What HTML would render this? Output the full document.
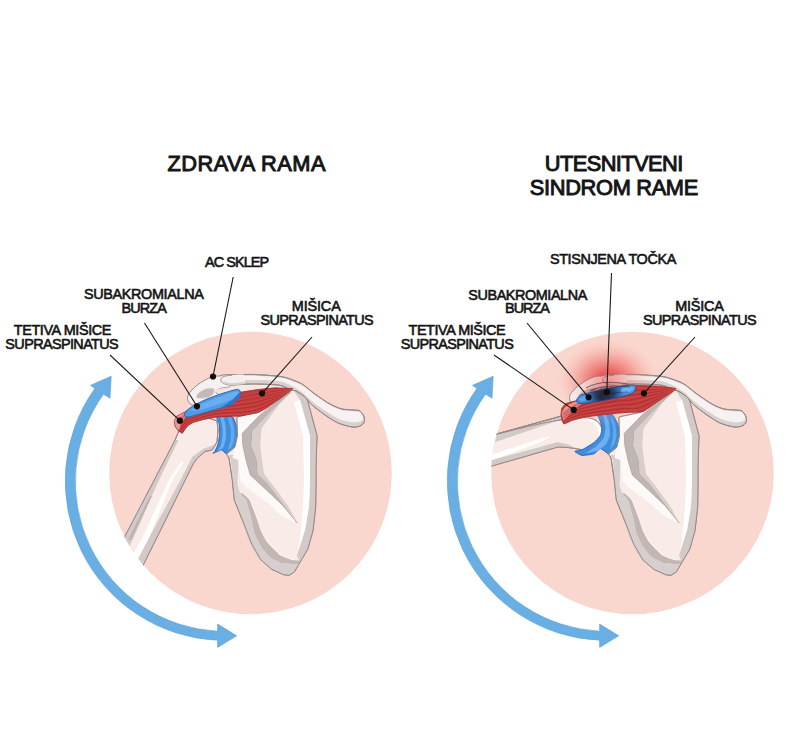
<!DOCTYPE html>
<html><head><meta charset="utf-8">
<style>
html,body{margin:0;padding:0;background:#fff;width:800px;height:750px;overflow:hidden}
svg{display:block}
text{font-family:"Liberation Sans",sans-serif;font-weight:normal;fill:#141414}
</style></head>
<body>
<svg width="800" height="750" viewBox="0 0 800 750">
<defs>
<clipPath id="clipL"><circle cx="250.5" cy="473" r="141.3"/></clipPath>
<clipPath id="clipR"><circle cx="632.5" cy="473" r="141.3"/></clipPath>
<filter id="blur2" x="-50%" y="-50%" width="200%" height="200%"><feGaussianBlur stdDeviation="2.5"/></filter>
<linearGradient id="burG" x1="576" y1="0" x2="636" y2="0" gradientUnits="userSpaceOnUse"><stop offset="0" stop-color="#3f8fe0"/><stop offset="0.22" stop-color="#3b7fd0"/><stop offset="0.42" stop-color="#1e2c4a"/><stop offset="0.58" stop-color="#26406c"/><stop offset="0.72" stop-color="#3475c0"/><stop offset="0.8" stop-color="#3f8ee0"/><stop offset="1" stop-color="#55a2ea"/></linearGradient>
<radialGradient id="glow" cx="0.5" cy="0.5" r="0.5">
<stop offset="0" stop-color="#e5302f" stop-opacity="0.85"/>
<stop offset="0.2" stop-color="#e83d3b" stop-opacity="0.68"/>
<stop offset="0.45" stop-color="#ec605b" stop-opacity="0.42"/>
<stop offset="0.7" stop-color="#f1857c" stop-opacity="0.18"/>
<stop offset="1" stop-color="#f9d6cd" stop-opacity="0"/>
</radialGradient>
</defs>
<!-- circles -->
<circle cx="250.5" cy="473" r="141.3" fill="#fad7ce"/>
<circle cx="632.5" cy="473" r="141.3" fill="#fad7ce"/>

<!-- arrows -->
<g id="arrowL" fill="#6aafe3" stroke="#5b9fd8" stroke-width="0.6" stroke-linejoin="miter">
<path d="M94.8,388.6 L90.5,385.3 L111.2,376.2 L110,398.2 L103.5,394.2 A149.8,149.8 0 0 0 217.6,631.2 L217.6,624 L236.7,635.8 L217.6,647.5 L217.6,640.3 A159.4,159.4 0 0 1 94.8,388.6 Z"/>
</g>
<use href="#arrowL" transform="translate(382,0)"/>


<g id="anatL">
<path d="M81.0,620.0 L133.5,520.0 L175.1,440.0 L178.0,433.0 L183.0,425.0 L190.5,421.0 L200.0,419.0 L210.0,418.5 L217.0,421.0 L218.0,430.0 L217.0,442.0 L212.0,450.0 L205.0,451.5 L197.5,458.0 L193.3,463.5 L165.5,520.0 L116.0,620.0 Z" fill="#f9ebe7" stroke="#968a88" stroke-width="1.0" stroke-linejoin="round" clip-path="url(#clipL)"/>
<path d="M81.0,620.0 L133.5,520.0 L175.1,440.0 L178.6,440.0 L159.0,480.0 L133.8,537.3 L95.0,620.0 Z" fill="#d3cac8" clip-path="url(#clipL)"/>
<path d="M128.0,540.0 L150.0,496.0 L152.0,496.0 L131.0,540.0 Z" fill="#b3a8a5" clip-path="url(#clipL)" opacity="0.7"/>
<path d="M116.0,620.0 L165.5,520.0 L193.3,463.5 L197.5,458.0 L205.0,451.5 L212.0,450.0 L216.0,444.0 L211.0,446.0 L203.0,449.0 L192.2,457.0 L180.5,480.0 L149.2,537.3 L106.0,620.0 Z" fill="#d3cac8" clip-path="url(#clipL)"/>
<path d="M181.5,461.3 L183.5,462.5 L172.5,480.0 L149.2,537.3 L106.0,620.0 L94.0,620.0 L142.7,537.3 L169.0,480.0 Z" fill="#ffffff" clip-path="url(#clipL)"/>
<path d="M81.0,620.0 L133.5,520.0 L175.1,440.0 L178.0,433.0 L183.0,425.0 L190.5,421.0 L200.0,419.0 L210.0,418.5 L217.0,421.0 L218.0,430.0 L217.0,442.0 L212.0,450.0 L205.0,451.5 L197.5,458.0 L193.3,463.5 L165.5,520.0 L116.0,620.0 Z" fill="none" stroke="#968a88" stroke-width="1.0" stroke-linejoin="round" clip-path="url(#clipL)"/>
<path d="M216.3,416.3 C216.7,415.7 222.7,416.0 224.0,416.0 C225.3,416.0 230.8,416.0 231.7,416.3 C232.6,416.6 233.9,419.0 234.3,420.0 C234.7,421.0 236.7,427.2 237.0,428.7 C237.3,430.2 237.8,436.4 237.7,438.0 C237.6,439.6 236.3,446.1 235.7,447.3 C235.1,448.5 231.1,452.1 230.3,452.7 C229.5,453.3 227.0,454.2 226.3,454.0 C225.6,453.8 222.8,450.1 221.7,450.0 C220.6,449.9 213.6,453.2 213.0,453.3 C212.4,453.4 214.6,452.1 215.0,451.3 C215.4,450.5 217.9,444.8 218.3,443.3 C218.7,441.8 219.6,435.0 219.7,433.3 C219.8,431.6 219.3,424.7 219.0,423.3 C218.7,421.9 215.9,416.9 216.3,416.3 Z" fill="#3f8ddc" stroke="#2764b8" stroke-width="0.9" stroke-linejoin="round" />
<path d="M220.5,417.5 C220.7,416.9 223.0,416.8 223.5,417.5 C224.0,418.2 225.2,423.1 225.5,425.0 C225.8,426.9 226.2,434.8 226.0,437.0 C225.8,439.2 224.3,445.6 223.5,447.0 C222.7,448.4 218.2,451.9 218.0,451.5 C217.8,451.1 221.1,444.9 221.5,443.0 C221.9,441.1 222.5,434.9 222.5,433.0 C222.5,431.1 222.0,425.6 221.8,424.0 C221.6,422.4 220.3,418.1 220.5,417.5 Z" fill="#6ab0f2" />
<path d="M228.0,418.0 C228.1,416.9 230.9,417.1 231.5,418.0 C232.1,418.9 233.7,425.0 234.0,427.0 C234.3,429.0 234.7,436.1 234.5,438.0 C234.3,439.9 232.7,445.3 232.0,446.5 C231.3,447.7 228.2,450.6 228.0,450.0 C227.8,449.4 230.2,442.1 230.5,440.0 C230.8,437.9 231.1,431.2 230.8,429.0 C230.6,426.8 227.9,419.1 228.0,418.0 Z" fill="#62a8ee" />
<g id="shared">
<path d="M293.0,389.5 L306.3,395.7 L317.0,435.7 L316.0,465.0 L316.0,485.0 L315.7,506.7 L313.0,530.7 L307.7,549.3 L299.7,562.7 L294.3,572.0 L289.0,575.3 L283.7,574.7 L271.7,569.3 L261.0,560.0 L251.7,544.0 L245.0,526.7 L239.7,513.3 L234.3,500.0 L232.3,480.0 L229.0,458.0 L226.5,454.0 L235.0,447.0 L237.5,436.0 L237.0,417.0 L258.0,412.5 L280.0,398.5 Z" fill="#f9ebe7" stroke="#968a88" stroke-width="1.0" stroke-linejoin="round" />
<path d="M228.5,455.0 L231.0,460.0 L232.3,480.0 L234.3,497.3 L239.0,510.0 L242.1,520.0 L246.9,536.0 L253.3,549.9 L259.7,560.0 L271.7,569.3 L283.7,574.7 L289.0,575.3 L294.3,572.0 L299.7,562.7 L299.7,562.7 L296.0,564.0 L283.0,563.5 L270.0,557.3 L261.0,546.5 L254.4,533.0 L251.2,518.0 L246.0,500.0 L240.0,493.0 L237.5,485.0 L238.5,460.0 L236.0,455.0 Z" fill="#d7cfcd" />
<path d="M240.0,493.0 C240.1,493.3 245.4,498.8 246.0,500.0 C246.6,501.2 250.8,516.4 251.2,518.0 C251.6,519.6 253.9,531.6 254.4,533.0 C254.9,534.4 260.2,545.3 261.0,546.5 C261.8,547.7 268.9,556.4 270.0,557.3 C271.1,558.1 281.7,563.2 283.0,563.5 C284.3,563.8 295.2,564.0 296.0,564.0 C296.8,564.0 299.5,562.9 299.7,562.7 C299.9,562.5 299.9,560.2 299.5,560.0 C299.1,559.8 293.0,559.8 292.0,559.5 C291.0,559.2 281.2,555.6 280.0,554.7 C278.8,553.8 268.6,543.6 267.7,542.4 C266.8,541.2 261.8,531.9 261.3,530.7 C260.8,529.5 257.6,519.5 257.0,518.0 C256.4,516.5 250.7,501.2 250.0,500.0 C249.3,498.8 244.5,494.4 244.0,494.0 C243.5,493.6 239.9,492.7 240.0,493.0 Z" fill="#c3b7b4" />
<path d="M244.0,494.0 C244.5,494.5 248.9,498.0 250.0,500.0 C251.1,502.0 256.1,515.4 257.0,518.0 C257.9,520.6 260.4,528.7 261.3,530.7 C262.2,532.7 266.1,540.4 267.7,542.4 C269.3,544.4 278.0,553.3 280.0,554.7 C282.0,556.1 290.4,559.1 292.0,559.5 C293.6,559.9 298.9,560.0 299.5,560.0" fill="none" stroke="#fdf8f7" stroke-width="1.0" stroke-linejoin="round" />
<path d="M293.0,389.5 L306.3,395.7 L317.0,435.7 L316.0,465.0 L316.0,485.0 L315.7,506.7 L313.0,530.7 L307.7,549.3 L299.7,562.7 L297.0,555.0 L305.0,530.0 L309.0,506.0 L310.0,480.0 L310.0,436.0 L300.0,400.0 Z" fill="#d3cac8" />
<path d="M300.0,400.0 L310.0,436.0 L310.0,480.0 L309.0,506.0 L305.0,530.0 L297.0,555.0 L300.0,540.0 L303.0,506.0 L304.0,480.0 L303.0,436.0 L294.0,402.0 Z" fill="#ffffff" />
<path d="M237.0,417.0 L258.0,412.5 L261.0,414.0 L242.2,433.4 L242.8,445.4 L246.0,460.0 L250.3,475.0 L265.2,488.8 L283.3,505.9 L297.2,522.9 L294.0,521.9 L281.2,515.5 L267.3,502.7 L247.0,487.7 L240.7,481.3 L239.5,472.0 L238.5,460.0 L232.5,458.0 L235.0,447.0 L237.5,436.0 Z" fill="#fdf9f8" />
<path d="M292.0,390.0 L259.6,415.4 L242.2,433.4 L242.8,445.4 L246.0,460.0 L250.3,475.0 L265.2,488.8 L283.3,505.9 L297.2,522.9 L267.3,483.5 L257.7,473.9 L256.7,460.0 L251.2,445.4 L252.4,431.0 L270.0,412.0 L290.0,393.0 Z" fill="#bfb5b2" stroke="#9f9391" stroke-width="0.6" stroke-linejoin="round" />
<path d="M290.0,393.0 L270.0,412.0 L252.4,431.0 L251.2,445.4 L256.7,460.0 L257.7,473.9 L267.3,483.5 L297.2,522.9 L288.7,506.9 L274.8,487.7 L264.1,473.9 L262.0,460.0 L260.2,445.4 L261.4,428.6 L283.6,398.6 Z" fill="#d8cfcd" />
<path d="M293.0,389.5 L306.3,395.7 L317.0,435.7 L316.0,465.0 L316.0,485.0 L315.7,506.7 L313.0,530.7 L307.7,549.3 L299.7,562.7 L294.3,572.0 L289.0,575.3 L283.7,574.7 L271.7,569.3 L261.0,560.0 L251.7,544.0 L245.0,526.7 L239.7,513.3 L234.3,500.0 L232.3,480.0 L229.0,458.0 L226.5,454.0 L235.0,447.0 L237.5,436.0 L237.0,417.0 L258.0,412.5 L280.0,398.5 Z" fill="none" stroke="#968a88" stroke-width="1.0" stroke-linejoin="round" />
<path d="M222.0,383.5 L255.0,383.5 L280.0,384.8 L290.0,389.5 L296.0,391.5 L293.5,392.0 L280.0,389.2 L258.0,389.5 L240.0,392.3 L218.0,396.0 L214.0,391.0 Z" fill="#f6e8e4" />
<path d="M221.5,375.4 C224.1,374.8 235.5,374.7 240.0,374.6 C244.5,374.5 249.7,374.3 255.0,374.5 C260.3,374.7 275.3,375.8 280.0,376.4 C284.7,377.0 287.1,378.0 290.0,379.0 C292.9,380.0 298.7,382.0 302.0,384.0 C305.3,386.0 311.3,391.3 315.0,394.0 C318.7,396.7 326.4,402.0 330.0,404.0 C333.6,406.0 338.8,408.2 342.0,409.0 C345.2,409.8 351.6,409.7 354.0,410.0 C356.4,410.3 358.7,410.1 360.0,411.0 C361.3,411.9 363.4,415.0 364.0,416.5 C364.6,418.0 364.7,420.7 364.2,422.0 C363.7,423.3 361.6,425.3 360.0,426.0 C358.4,426.7 354.9,427.4 352.0,427.0 C349.1,426.6 341.6,424.6 338.0,423.0 C334.4,421.4 328.5,417.4 325.0,415.0 C321.5,412.6 314.7,407.4 312.0,405.0 C309.3,402.6 307.1,398.9 305.0,397.0 C302.9,395.1 298.0,391.9 296.0,391.0 C294.0,390.1 292.1,390.8 290.0,390.0 C287.9,389.2 284.7,386.1 280.0,385.3 C275.3,384.5 261.4,384.1 255.0,384.0 C248.6,383.9 236.3,384.7 232.0,384.6 C227.7,384.5 224.1,383.7 222.5,383.0 C220.9,382.3 220.4,380.3 220.3,379.3 C220.2,378.3 218.9,376.0 221.5,375.4 Z" fill="#d9d1cf" stroke="#968a88" stroke-width="1.0" stroke-linejoin="round" />
<path d="M223.0,376.5 C225.3,375.9 235.7,375.9 240.0,375.8 C244.3,375.7 249.7,375.5 255.0,375.8 C260.3,376.1 275.3,377.1 280.0,377.7 C284.7,378.3 287.1,379.2 290.0,380.2 C292.9,381.2 298.7,383.2 302.0,385.2 C305.3,387.2 311.3,392.5 315.0,395.2 C318.7,397.9 326.4,403.2 330.0,405.2 C333.6,407.2 338.8,409.4 342.0,410.2 C345.2,411.0 351.6,410.9 354.0,411.2 C356.4,411.5 358.8,411.5 360.0,412.2 C361.2,412.9 362.5,415.5 362.8,416.5 C363.1,417.5 363.1,419.3 362.5,420.0 C361.9,420.7 359.7,421.7 358.0,422.0 C356.3,422.3 352.7,422.5 350.0,422.0 C347.3,421.5 341.5,420.1 338.0,418.5 C334.5,416.9 327.6,412.4 324.0,410.0 C320.4,407.6 313.8,402.8 311.0,400.5 C308.2,398.2 305.3,394.8 303.0,393.0 C300.7,391.2 297.1,388.6 294.0,387.0 C290.9,385.4 285.2,382.2 280.0,381.3 C274.8,380.4 261.4,380.1 255.0,380.0 C248.6,379.9 236.3,380.3 232.0,380.3 C227.7,380.3 224.2,380.5 223.0,380.0 C221.8,379.5 220.7,377.1 223.0,376.5 Z" fill="#f7f2f1" />
<path d="M221.5,375.4 C224.1,374.8 235.5,374.7 240.0,374.6 C244.5,374.5 249.7,374.3 255.0,374.5 C260.3,374.7 275.3,375.8 280.0,376.4 C284.7,377.0 287.1,378.0 290.0,379.0 C292.9,380.0 298.7,382.0 302.0,384.0 C305.3,386.0 311.3,391.3 315.0,394.0 C318.7,396.7 326.4,402.0 330.0,404.0 C333.6,406.0 338.8,408.2 342.0,409.0 C345.2,409.8 351.6,409.7 354.0,410.0 C356.4,410.3 358.7,410.1 360.0,411.0 C361.3,411.9 363.4,415.0 364.0,416.5 C364.6,418.0 364.7,420.7 364.2,422.0 C363.7,423.3 361.6,425.3 360.0,426.0 C358.4,426.7 354.9,427.4 352.0,427.0 C349.1,426.6 341.6,424.6 338.0,423.0 C334.4,421.4 328.5,417.4 325.0,415.0 C321.5,412.6 314.7,407.4 312.0,405.0 C309.3,402.6 307.1,398.9 305.0,397.0 C302.9,395.1 298.0,391.9 296.0,391.0 C294.0,390.1 292.1,390.8 290.0,390.0 C287.9,389.2 284.7,386.1 280.0,385.3 C275.3,384.5 261.4,384.1 255.0,384.0 C248.6,383.9 236.3,384.7 232.0,384.6 C227.7,384.5 224.1,383.7 222.5,383.0 C220.9,382.3 220.4,380.3 220.3,379.3 C220.2,378.3 218.9,376.0 221.5,375.4 Z" fill="none" stroke="#968a88" stroke-width="1.0" stroke-linejoin="round" />
<path d="M213.0,376.5 C215.0,376.0 220.0,375.8 222.0,376.0 C224.0,376.2 228.8,377.2 230.0,378.0 C231.2,378.8 232.1,382.0 232.0,383.0 C231.9,384.0 230.9,386.2 229.5,386.8 C228.1,387.4 221.7,388.0 220.0,388.5 C218.3,389.0 215.1,390.7 215.0,391.5 C214.9,392.3 219.1,394.2 219.0,395.0 C218.9,395.8 216.0,397.6 214.0,398.5 C212.0,399.4 204.6,402.2 202.0,403.0 C199.4,403.8 193.7,405.4 192.0,405.0 C190.3,404.6 188.2,401.3 187.8,400.0 C187.4,398.7 187.5,395.6 188.5,394.0 C189.5,392.4 194.1,387.6 196.0,386.0 C197.9,384.4 203.0,381.1 205.0,380.0 C207.0,378.9 211.0,377.0 213.0,376.5 Z" fill="#f6f1f0" stroke="#968a88" stroke-width="1.0" stroke-linejoin="round" />
<path d="M196.0,397.0 C195.9,396.2 197.8,393.6 199.0,392.5 C200.2,391.4 203.3,389.6 205.0,389.0 C206.7,388.4 210.7,387.9 212.0,388.0 C213.3,388.1 214.4,389.1 214.5,390.0 C214.6,390.9 213.9,393.5 213.0,394.5 C212.1,395.5 209.7,397.0 208.0,397.5 C206.3,398.0 201.6,398.6 200.0,398.5 C198.4,398.4 196.1,397.8 196.0,397.0 Z" fill="#c3b9b7" stroke="#e9e2e0" stroke-width="0.8" stroke-linejoin="round" />
<path d="M214.5,390.0 C215.3,389.4 220.1,388.6 222.0,388.3 C223.9,388.0 228.7,387.1 229.0,387.5 C229.3,387.9 225.7,390.3 224.0,391.0 C222.3,391.7 217.3,392.6 216.0,392.5 C214.7,392.4 213.7,390.6 214.5,390.0 Z" fill="#f3e3df" />
<path d="M221.5,376.0 C223.0,375.4 229.0,375.1 232.0,375.0 C235.0,374.9 242.4,373.8 244.0,375.0 C245.6,376.2 245.7,382.6 244.0,384.0 C242.3,385.4 233.8,385.6 231.0,385.5 C228.2,385.4 224.4,384.3 223.0,383.5 C221.6,382.7 220.7,380.5 220.5,379.5 C220.3,378.5 220.0,376.6 221.5,376.0 Z" fill="#f4efee" />
<path d="M232,375.3 C226,375.5 221,376.5 220.8,379.8 C220.8,383 225,384.8 232,385.3 L244,384.3" fill="none" stroke="#968a88" stroke-width="0.9"/>
<path d="M223.0,381.5 C224.0,381.5 228.2,382.9 231.0,383.0 C233.8,383.1 242.3,381.9 244.0,382.0 C245.7,382.1 245.7,383.6 244.0,384.0 C242.3,384.4 233.7,385.2 231.0,385.1 C228.3,385.0 224.6,383.8 223.5,383.3 C222.4,382.8 222.0,381.5 223.0,381.5 Z" fill="#d9d1cf" />
</g>
<path d="M293.0,388.5 L275.0,387.8 L258.0,389.5 L240.0,392.3 L220.0,398.8 L198.0,406.0 L185.0,412.0 L177.0,416.0 L174.2,421.0 L175.2,426.5 L178.5,431.0 L182.3,433.3 L184.5,430.0 L188.0,425.5 L193.0,422.5 L205.0,419.0 L218.0,416.7 L240.0,416.0 L258.0,412.5 L266.0,408.5 L280.0,398.5 Z" fill="#c33b3b" stroke="#a22b2d" stroke-width="0.8" stroke-linejoin="round" />
<path d="M174.5,421.0 C174.7,419.7 176.8,417.0 178.0,416.0 C179.2,415.0 183.6,413.1 185.0,412.5 C186.4,411.9 189.9,410.5 190.0,411.0 C190.1,411.5 187.1,415.5 186.0,417.0 C184.9,418.5 181.8,422.5 181.0,424.0 C180.2,425.5 179.6,429.6 179.0,430.0 C178.4,430.4 176.5,428.1 176.0,427.0 C175.5,425.9 174.3,422.3 174.5,421.0 Z" fill="#e49b93" />
<g fill="none" stroke="#a32a2c" stroke-width="0.8" opacity="0.8"><path d="M291.8,389.0 C286.2,389.8 270.0,391.2 258.0,393.4 C246.0,395.6 230.8,398.8 219.6,401.9 C208.4,405.1 197.4,409.1 190.6,412.1 C183.8,415.1 180.9,418.5 179.0,419.8"/><path d="M291.6,389.2 C286.0,390.6 270.1,394.8 258.0,397.4 C245.9,400.0 230.4,402.1 219.3,404.9 C208.1,407.6 197.7,411.3 191.1,414.2 C184.5,417.0 181.7,420.7 179.8,422.0"/><path d="M291.5,389.4 C285.9,391.4 270.1,398.3 258.0,401.4 C245.9,404.5 230.0,405.3 219.0,407.8 C207.9,410.2 198.0,413.5 191.6,416.3 C185.2,419.0 182.4,422.9 180.6,424.3"/><path d="M291.3,389.6 C285.8,392.2 270.1,401.9 258.0,405.4 C245.9,408.9 229.6,408.5 218.6,410.7 C207.6,412.8 198.2,415.7 192.0,418.3 C185.8,421.0 183.2,425.2 181.4,426.5"/><path d="M291.2,389.8 C285.6,393.1 270.1,405.4 258.0,409.4 C245.9,413.4 229.2,411.8 218.3,413.6 C207.4,415.4 198.5,417.9 192.5,420.4 C186.5,422.9 183.9,427.4 182.2,428.8"/></g><g fill="none" stroke="#d6514f" stroke-width="0.7" opacity="0.75"><path d="M291.9,388.9 C286.2,389.6 270.0,390.6 258.0,392.6 C246.0,394.7 231.0,398.1 219.8,401.2 C208.5,404.3 197.2,408.1 190.4,411.1 C183.5,414.0 180.6,417.4 178.6,418.7"/><path d="M291.7,389.1 C286.1,390.3 270.0,393.9 258.0,396.4 C246.0,398.9 230.6,401.2 219.4,404.0 C208.2,406.8 197.5,410.3 190.8,413.1 C184.2,416.0 181.3,419.6 179.4,420.9"/><path d="M291.6,389.3 C286.0,391.1 270.1,397.3 258.0,400.2 C245.9,403.1 230.2,404.2 219.1,406.8 C208.0,409.3 197.8,412.5 191.3,415.2 C184.8,418.0 182.1,421.8 180.2,423.2"/><path d="M291.4,389.5 C285.8,391.9 270.1,400.6 258.0,404.0 C245.9,407.3 229.8,407.3 218.8,409.5 C207.8,411.8 198.1,414.7 191.8,417.3 C185.5,419.9 182.8,424.0 181.0,425.4"/><path d="M291.2,389.7 C285.7,392.7 270.1,404.0 258.0,407.7 C245.9,411.5 229.4,410.4 218.5,412.3 C207.5,414.3 198.4,416.8 192.3,419.4 C186.2,421.9 183.5,426.3 181.8,427.6"/><path d="M291.1,389.9 C285.6,393.5 270.2,407.3 258.0,411.5 C245.8,415.7 229.0,413.4 218.2,415.1 C207.3,416.8 198.7,419.0 192.8,421.5 C186.8,423.9 184.3,428.5 182.6,429.9"/></g>
<path d="M184.6,415.0 C184.7,414.2 185.0,412.2 186.2,410.9 C187.5,409.6 191.8,406.8 194.0,405.5 C196.2,404.2 199.2,402.5 202.5,401.0 C205.8,399.5 214.4,396.1 218.8,394.6 C223.1,393.1 232.3,390.4 235.0,389.8 C237.7,389.1 238.3,389.4 239.0,389.8 C239.7,390.2 240.5,391.6 240.6,392.5 C240.7,393.4 240.5,395.4 240.0,396.5 C239.5,397.6 237.6,399.4 236.5,400.5 C235.4,401.6 233.8,403.4 231.8,404.4 C229.7,405.4 223.8,407.1 221.0,408.0 C218.2,408.9 213.7,410.0 210.6,410.9 C207.5,411.8 200.8,413.7 198.0,414.5 C195.2,415.3 191.2,416.5 189.5,416.8 C187.8,417.1 186.2,417.0 185.5,416.8 C184.8,416.6 184.5,415.8 184.6,415.0 Z" fill="#4f9be4" stroke="#2a66bd" stroke-width="1.0" stroke-linejoin="round" />
<path d="M191.0,410.0 C191.7,409.1 199.3,405.2 203.0,403.5 C206.7,401.8 215.0,398.5 219.0,397.0 C223.0,395.5 230.5,392.7 233.0,392.0 C235.5,391.3 237.5,391.5 238.0,392.0 C238.5,392.5 238.1,394.4 237.0,395.5 C235.9,396.6 232.9,398.7 230.0,400.0 C227.1,401.3 219.3,404.1 215.0,405.5 C210.7,406.9 201.2,409.9 198.0,410.5 C194.8,411.1 190.3,410.9 191.0,410.0 Z" fill="#68aef0" />
<path d="M240.6,392.5 C240.9,392.8 240.5,395.4 240.0,396.5 C239.5,397.6 237.6,399.4 236.5,400.5 C235.4,401.6 233.8,403.4 231.8,404.4 C229.7,405.4 221.8,408.1 221.0,408.0 C220.2,407.9 224.3,405.2 226.0,404.0 C227.7,402.8 232.0,400.3 233.5,399.0 C235.0,397.7 236.6,395.4 237.5,394.5 C238.4,393.6 240.3,392.2 240.6,392.5 Z" fill="#2f72c6" />
</g>
<g id="anatR">
<path d="M478.0,439.2 L563.1,415.6 Z C575,413 592,415 599,423 C604,430 605,440 600,446 C596,450 588,451 578,449 C572,448 566,447 558,447 L478,470 Z" fill="#f9ebe7" stroke="#968a88" stroke-width="1.0" stroke-linejoin="round" clip-path="url(#clipR)"/>
<path d="M478.0,439.2 L563.1,415.6 L566.0,417.0 L560.0,420.0 L478.0,447.8 Z" fill="#d3cac8" clip-path="url(#clipR)"/>
<path d="M478.0,470.0 L558.0,447.0 L566.0,447.0 L578.0,449.0 L568.0,444.5 L558.0,442.0 L478.0,463.8 Z" fill="#d3cac8" clip-path="url(#clipR)"/>
<path d="M478.0,458.0 L493.0,454.0 L547.0,436.5 L550.0,437.0 L540.0,442.5 L492.0,460.0 L478.0,463.8 Z" fill="#ffffff" clip-path="url(#clipR)"/>
<path d="M572,417 C585,415 595,418 600,425 C603.5,431 604,440 600,445.5 C596,449.5 590,450.5 584,450 C591,447 597,443 598.5,437 C599.5,430 596,423 588,420 C583,418.5 577,418 572,417 Z" fill="#ffffff"/>
<path d="M478.0,439.2 L563.1,415.6 Z C575,413 592,415 599,423 C604,430 605,440 600,446 C596,450 588,451 578,449 C572,448 566,447 558,447 L478,470 Z" fill="none" stroke="#968a88" stroke-width="1.0" stroke-linejoin="round" clip-path="url(#clipR)"/>
<path d="M598.8,412.2 C599.6,411.9 606.4,411.9 607.6,412.2 C608.8,412.5 612.3,414.3 613.2,415.4 C614.1,416.5 617.5,423.3 618.0,425.0 C618.5,426.7 619.6,433.7 619.6,435.4 C619.6,437.1 618.5,443.7 618.0,445.0 C617.5,446.3 614.0,450.7 613.2,451.4 C612.4,452.1 609.5,454.0 608.4,453.8 C607.3,453.6 601.6,448.6 600.4,448.6 C599.2,448.6 595.5,453.2 594.0,453.8 C592.5,454.4 583.6,455.6 582.0,455.4 C580.4,455.2 574.8,451.9 574.8,451.4 C574.8,450.9 580.4,450.5 582.0,449.8 C583.6,449.1 592.5,443.8 594.0,442.6 C595.5,441.4 599.7,436.7 600.4,435.4 C601.1,434.1 602.1,428.7 602.0,427.4 C601.9,426.1 599.9,420.3 599.6,419.4 C599.3,418.4 598.1,416.6 598.0,416.0 C597.9,415.4 598.0,412.5 598.8,412.2 Z" fill="#3f8ddc" stroke="#2764b8" stroke-width="0.9" stroke-linejoin="round" />
<path d="M603.0,414.0 C603.0,413.0 605.5,414.2 606.0,415.0 C606.5,415.8 608.7,421.3 609.0,423.0 C609.3,424.7 610.2,433.2 610.0,435.0 C609.8,436.8 607.0,442.7 606.0,444.0 C605.0,445.3 599.7,449.8 598.0,450.5 C596.3,451.2 586.2,453.3 586.0,453.0 C585.8,452.7 594.5,447.8 596.0,446.5 C597.5,445.2 602.7,439.6 603.5,438.0 C604.3,436.4 605.5,429.0 605.5,427.0 C605.5,425.0 603.0,415.0 603.0,414.0 Z" fill="#6ab0f2" />
<path d="M611.0,417.0 C611.2,416.7 614.5,422.5 615.0,424.0 C615.5,425.5 616.5,433.3 616.5,435.0 C616.5,436.7 615.0,442.8 614.5,444.0 C614.0,445.2 610.2,449.3 610.0,449.0 C609.8,448.7 612.2,441.8 612.5,440.0 C612.8,438.2 613.1,429.9 613.0,428.0 C612.9,426.1 610.8,417.3 611.0,417.0 Z" fill="#62a8ee" />
<ellipse cx="608" cy="381" rx="54" ry="44" fill="url(#glow)"/>
<use href="#shared" transform="translate(382.0,0)"/>
<ellipse cx="608" cy="381" rx="54" ry="44" fill="url(#glow)" opacity="0.55"/>
<path d="M676.0,388.7 C675.7,387.9 657.8,386.2 655.0,386.0 C652.2,385.8 632.0,385.1 628.8,385.3 C625.5,385.5 602.9,389.1 600.0,390.0 C597.1,390.9 580.3,399.2 578.3,400.0 C576.3,400.8 567.0,403.0 566.0,403.5 C565.0,404.0 562.3,407.4 562.0,408.0 C561.7,408.6 561.0,413.3 561.0,414.0 C561.0,414.7 561.8,419.4 562.0,420.0 C562.2,420.6 563.4,424.0 564.0,424.0 C564.6,424.0 570.9,420.9 572.0,420.5 C573.1,420.1 581.4,417.8 583.0,417.5 C584.6,417.2 597.5,415.3 600.0,415.0 C602.5,414.7 622.5,412.7 625.0,412.5 C627.5,412.3 641.4,412.2 643.4,411.5 C645.4,410.8 658.1,401.3 660.0,400.0 C661.9,398.7 676.3,389.5 676.0,388.7 Z" fill="#c33b3b" stroke="#a22b2d" stroke-width="0.8" stroke-linejoin="round" />
<path d="M562.0,412.5 C562.4,410.8 565.1,406.8 567.0,405.5 C568.9,404.2 575.9,401.6 578.0,401.0 C580.1,400.4 585.0,399.3 585.0,400.0 C585.0,400.7 579.8,405.4 578.0,407.0 C576.2,408.6 571.6,412.4 570.0,414.0 C568.4,415.6 564.9,420.7 564.0,420.5 C563.1,420.3 561.6,414.2 562.0,412.5 Z" fill="#e49b93" />
<g fill="none" stroke="#a32a2c" stroke-width="0.8" opacity="0.8"><path d="M674.8,389.2 C667.6,389.5 643.2,389.8 631.6,390.7 C620.0,391.7 613.8,392.5 605.0,394.7 C596.2,396.9 586.0,400.6 579.0,403.7 C572.0,406.8 565.8,411.8 563.2,413.4"/><path d="M674.6,389.4 C667.8,390.3 644.8,393.4 633.9,394.9 C622.9,396.3 618.0,396.3 609.0,398.2 C600.0,400.1 587.4,403.5 579.8,406.4 C572.2,409.2 566.1,413.8 563.4,415.3"/><path d="M674.5,389.5 C668.1,391.1 646.4,396.9 636.2,399.0 C625.9,401.0 622.3,400.1 613.0,401.7 C603.7,403.4 588.8,406.5 580.6,409.1 C572.4,411.7 566.4,415.9 563.5,417.2"/><path d="M674.3,389.7 C668.3,391.9 648.0,400.5 638.4,403.1 C628.9,405.7 626.5,403.8 617.0,405.3 C607.5,406.7 590.3,409.5 581.4,411.8 C572.5,414.1 566.6,417.9 563.7,419.2"/><path d="M674.2,389.8 C668.6,392.7 649.6,404.0 640.7,407.2 C631.9,410.3 630.8,407.6 621.0,408.8 C611.2,410.0 591.7,412.4 582.2,414.5 C572.7,416.5 566.9,420.0 563.8,421.1"/></g><g fill="none" stroke="#d6514f" stroke-width="0.7" opacity="0.75"><path d="M674.9,389.1 C667.5,389.0 642.4,388.0 630.5,388.7 C618.5,389.3 611.6,390.7 603.0,392.9 C594.4,395.2 585.2,399.1 578.6,402.3 C572.0,405.6 565.7,410.8 563.1,412.4"/><path d="M674.7,389.3 C667.7,389.9 644.0,391.6 632.7,392.8 C621.5,394.0 615.9,394.4 607.0,396.5 C598.1,398.5 586.7,402.0 579.4,405.0 C572.1,408.0 566.0,412.8 563.3,414.4"/><path d="M674.6,389.4 C668.0,390.7 645.6,395.2 635.0,396.9 C624.4,398.7 620.1,398.2 611.0,400.0 C601.9,401.8 588.1,405.0 580.2,407.7 C572.3,410.5 566.2,414.9 563.4,416.3"/><path d="M674.4,389.6 C668.2,391.5 647.2,398.7 637.3,401.0 C627.4,403.3 624.4,401.9 615.0,403.5 C605.6,405.1 589.6,408.0 581.0,410.4 C572.4,412.9 566.5,416.9 563.6,418.2"/><path d="M674.2,389.8 C668.5,392.3 648.8,402.3 639.6,405.1 C630.4,408.0 628.6,405.7 619.0,407.0 C609.4,408.4 591.0,411.0 581.8,413.1 C572.6,415.3 566.8,419.0 563.8,420.1"/><path d="M674.1,389.9 C668.7,393.1 650.4,405.8 641.9,409.2 C633.3,412.7 632.9,409.4 623.0,410.5 C613.1,411.6 592.4,413.9 582.6,415.8 C572.8,417.8 567.0,421.0 563.9,422.0"/></g>
<path d="M576.5,400.1 C576.8,399.1 578.8,396.4 580.0,395.5 C581.2,394.6 582.3,394.5 585.8,393.6 C589.3,392.7 601.1,390.0 606.3,388.9 C611.5,387.8 621.3,386.1 625.0,385.6 C628.7,385.1 632.5,384.9 634.0,385.2 C635.5,385.5 636.1,387.0 636.0,388.0 C635.9,389.0 634.5,391.5 633.0,392.5 C631.5,393.5 629.2,394.7 625.0,395.8 C620.8,396.9 607.3,399.8 601.7,400.8 C596.1,401.8 586.2,403.2 583.0,403.5 C579.8,403.8 578.9,403.3 578.0,402.8 C577.1,402.3 576.2,401.1 576.5,400.1 Z" fill="url(#burG)" stroke="#22509a" stroke-width="0.9" stroke-linejoin="round" />
<path d="M622.0,388.5 C623.2,387.7 629.5,387.0 631.0,387.0 C632.5,387.0 633.6,387.9 633.5,388.5 C633.4,389.1 631.5,390.9 630.0,391.5 C628.5,392.1 623.1,393.4 622.0,393.0 C620.9,392.6 620.8,389.3 622.0,388.5 Z" fill="#79b9f3" opacity="0.8"/>
<path d="M579.0,399.0 C579.3,398.3 582.5,396.5 584.0,396.0 C585.5,395.5 589.5,395.0 590.0,395.5 C590.5,396.0 589.1,398.7 588.0,399.5 C586.9,400.3 583.2,401.6 582.0,401.5 C580.8,401.4 578.7,399.7 579.0,399.0 Z" fill="#6cb0f2" opacity="0.7"/>
<ellipse cx="604" cy="393" rx="14" ry="6" fill="#2a1a24" opacity="0.45" filter="url(#blur2)"/>
<g fill="none" stroke="#2e2028" stroke-width="1.1" opacity="0.55"><path d="M586,388 C596,382 612,381 628,384"/><path d="M590,391 C600,386 614,385 630,387"/><path d="M595,398 C605,394 615,392 628,392"/></g>
</g>


<text id="t0" x="246.50" y="170.60" font-size="21.8" text-anchor="middle" stroke="#141414" stroke-width="0.95" textLength="158.02">ZDRAVA RAMA</text>
<text id="t1" x="614.00" y="171.00" font-size="21.8" text-anchor="middle" stroke="#141414" stroke-width="0.95" textLength="138.38">UTESNITVENI</text>
<text id="t2" x="614.00" y="195.00" font-size="21.8" text-anchor="middle" stroke="#141414" stroke-width="0.95" textLength="168.47">SINDROM RAME</text>
<text id="t3" x="237.10" y="266.60" font-size="14.4" text-anchor="middle" stroke="#141414" stroke-width="0.6" textLength="64.19">AC SKLEP</text>
<text id="t4" x="143.90" y="298.60" font-size="14.4" text-anchor="middle" stroke="#141414" stroke-width="0.6" textLength="119.95">SUBAKROMIALNA</text>
<text id="t5" x="144.10" y="312.60" font-size="14.4" text-anchor="middle" stroke="#141414" stroke-width="0.6" textLength="45.28">BURZA</text>
<text id="t6" x="316.30" y="311.00" font-size="14.4" text-anchor="middle" stroke="#141414" stroke-width="0.6" textLength="48.88">MIŠICA</text>
<text id="t7" x="317.10" y="324.80" font-size="14.4" text-anchor="middle" stroke="#141414" stroke-width="0.6" textLength="112.98">SUPRASPINATUS</text>
<text id="t8" x="62.60" y="335.20" font-size="14.4" text-anchor="middle" stroke="#141414" stroke-width="0.6" textLength="97.69">TETIVA MIŠICE</text>
<text id="t9" x="62.00" y="349.20" font-size="14.4" text-anchor="middle" stroke="#141414" stroke-width="0.6" textLength="113.28">SUPRASPINATUS</text>
<text id="t10" x="613.10" y="264.20" font-size="14.4" text-anchor="middle" stroke="#141414" stroke-width="0.6" textLength="126.42">STISNJENA TOČKA</text>
<text id="t11" x="527.80" y="299.80" font-size="14.4" text-anchor="middle" stroke="#141414" stroke-width="0.6" textLength="118.90">SUBAKROMIALNA</text>
<text id="t12" x="527.50" y="313.20" font-size="14.4" text-anchor="middle" stroke="#141414" stroke-width="0.6" textLength="44.88">BURZA</text>
<text id="t13" x="699.50" y="311.00" font-size="14.4" text-anchor="middle" stroke="#141414" stroke-width="0.6" textLength="48.58">MIŠICA</text>
<text id="t14" x="699.80" y="324.80" font-size="14.4" text-anchor="middle" stroke="#141414" stroke-width="0.6" textLength="113.68">SUPRASPINATUS</text>
<text id="t15" x="457.10" y="335.00" font-size="14.4" text-anchor="middle" stroke="#141414" stroke-width="0.6" textLength="97.19">TETIVA MIŠICE</text>
<text id="t16" x="457.20" y="349.20" font-size="14.4" text-anchor="middle" stroke="#141414" stroke-width="0.6" textLength="113.08">SUPRASPINATUS</text>
<!-- leader lines -->
<g stroke="#1a1a1a" stroke-width="1.1" fill="none">
<line x1="233.2" y1="277" x2="213" y2="376.5"/>
<line x1="144.5" y1="323" x2="197" y2="406.3"/>
<line x1="312" y1="337" x2="262" y2="393.3"/>
<line x1="110" y1="355" x2="179.8" y2="420.7"/>
<line x1="611.5" y1="273" x2="606.8" y2="392.2"/>
<line x1="527" y1="323" x2="588.6" y2="397.3"/>
<line x1="695" y1="337" x2="643.9" y2="393.3"/>
<line x1="494" y1="355" x2="573.7" y2="409.9"/>
</g>
<g fill="#0d0d0d">
<circle cx="213" cy="376.5" r="3.1"/>
<circle cx="197" cy="406.3" r="3.1"/>
<circle cx="262" cy="393.3" r="3.1"/>
<circle cx="179.8" cy="420.7" r="3.1"/>
<circle cx="606.8" cy="392.2" r="3.1"/>
<circle cx="588.6" cy="397.3" r="3.1"/>
<circle cx="643.9" cy="393.3" r="3.1"/>
<circle cx="573.7" cy="409.9" r="3.1"/>
</g>
</svg>
</body></html>
